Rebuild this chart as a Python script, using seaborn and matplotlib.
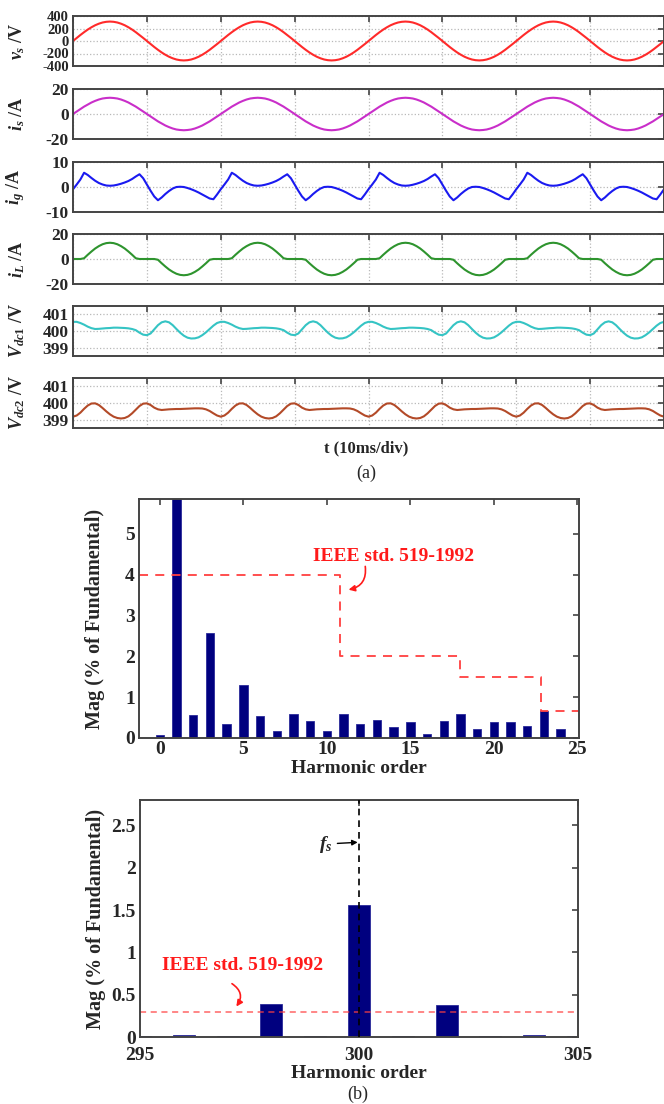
import numpy as np
import matplotlib
matplotlib.use("Agg")
import matplotlib.pyplot as plt
import seaborn as sns

# ---------------------------------------------------------------------------
# Waveforms: one 20 ms mains cycle per signal, sampled every 0.5 ms
# ---------------------------------------------------------------------------
STEP_MS = 0.5
N_CYCLES = 4

v_s_cycle = [0, 49, 96, 141, 183, 220, 252, 277, 296, 307,
             311, 307, 296, 277, 252, 220, 183, 141, 96, 49,
             0, -49, -96, -141, -183, -220, -252, -277, -296, -307,
             -311, -307, -296, -277, -252, -220, -183, -141, -96, -49]

i_s_cycle = [0, 2.0, 4.0, 5.9, 7.6, 9.2, 10.5, 11.6, 12.4, 12.8,
             13.0, 12.8, 12.4, 11.6, 10.5, 9.2, 7.6, 5.9, 4.0, 2.0,
             0, -2.0, -4.0, -5.9, -7.6, -9.2, -10.5, -11.6, -12.4, -12.8,
             -13.0, -12.8, -12.4, -11.6, -10.5, -9.2, -7.6, -5.9, -4.0, -2.0]

i_g_cycle = [-0.9, 1.0, 3.0, 5.7, 4.8, 3.6, 2.5, 1.6, 1.0, 0.6,
             0.5, 0.6, 0.9, 1.3, 1.8, 2.4, 3.2, 4.2, 5.1, 3.5,
             1.0, -1.5, -3.8, -5.3, -4.2, -2.8, -1.6, -0.6, 0.0, 0.1,
             0.0, -0.4, -0.9, -1.5, -2.2, -3.0, -3.8, -4.6, -4.9, -3.0]

i_L_cycle = [0, 0, 0, 0.6, 3.4, 6.0, 8.4, 10.3, 11.8, 12.7,
             13.0, 12.7, 11.8, 10.3, 8.4, 6.0, 3.4, 0.6, 0, 0,
             0, 0, 0, -0.6, -3.4, -6.0, -8.4, -10.3, -11.8, -12.7,
             -13.0, -12.7, -11.8, -10.3, -8.4, -6.0, -3.4, -0.6, 0, 0]

v_dc1_cycle = [400.55, 400.55, 400.48, 400.38, 400.26, 400.17, 400.12, 400.13, 400.15, 400.17,
               400.18, 400.20, 400.20, 400.19, 400.18, 400.16, 400.12, 400.05, 399.90, 399.78,
               399.75, 399.85, 400.10, 400.35, 400.52, 400.58, 400.52, 400.35, 400.12, 399.90,
               399.72, 399.60, 399.55, 399.56, 399.62, 399.75, 399.92, 400.12, 400.32, 400.48]

v_dc2_cycle = [399.18, 399.25, 399.42, 399.65, 399.85, 399.97, 399.98, 399.88, 399.70, 399.50,
               399.32, 399.18, 399.10, 399.07, 399.10, 399.20, 399.38, 399.60, 399.82, 399.96,
               399.98, 399.88, 399.72, 399.62, 399.58, 399.60, 399.62, 399.63, 399.64, 399.64,
               399.65, 399.66, 399.67, 399.68, 399.68, 399.67, 399.62, 399.52, 399.38, 399.25]

# ---------------------------------------------------------------------------
# Harmonic spectra of the source current (% of fundamental)
# ---------------------------------------------------------------------------
low_orders = list(range(0, 25))
low_mags = [0.07, 100.0, 0.57, 2.58, 0.34, 1.30, 0.53, 0.18, 0.59, 0.42,
            0.18, 0.59, 0.34, 0.44, 0.27, 0.39, 0.11, 0.42, 0.59, 0.22,
            0.39, 0.39, 0.30, 0.65, 0.22]
limit_edges = [-1.25, 10.8, 18.0, 22.8, 25.1]
limit_levels = [4.0, 2.0, 1.5, 0.65, 0.65]

high_orders = list(range(295, 306))
high_mags = [0.01, 0.025, 0.012, 0.39, 0.012, 1.56, 0.012, 0.38, 0.012, 0.025, 0.012]
high_limit = 0.3
switching_order = 300

# ---------------------------------------------------------------------------
sns.set_theme(style="white")
plt.rcParams.update({
    "font.family": ["Liberation Serif", "DejaVu Serif"],
    "font.weight": "bold",
    "mathtext.fontset": "custom",
    "mathtext.it": "Liberation Serif:italic:bold",
    "mathtext.rm": "Liberation Serif:bold",
    "mathtext.bf": "Liberation Serif:bold",
    "axes.unicode_minus": False,
    "xtick.direction": "in",
    "ytick.direction": "in",
    "axes.edgecolor": "#444444",
    "axes.linewidth": 1.4,
})

W, H = 664, 1104
fig = plt.figure(figsize=(W / 100, H / 100), dpi=100)


def add_axes_px(left, top, right, bottom):
    return fig.add_axes([left / W, 1 - bottom / H, (right - left) / W, (bottom - top) / H])


def tiled(cycle):
    values = np.tile(np.asarray(cycle, dtype=float), N_CYCLES)
    return np.append(values, cycle[0])


t_ms = np.arange(len(v_s_cycle) * N_CYCLES + 1) * STEP_MS

panels = [
    (v_s_cycle, r"$v_s$ /V", (-400, 400), [-400, -200, 0, 200, 400], "#ff2a2a", 10.5),
    (i_s_cycle, r"$i_s$ /A", (-20, 20), [-20, 0, 20], "#c92ec9", 12.5),
    (i_g_cycle, r"$i_g$ /A", (-10, 10), [-10, 0, 10], "#1a1af0", 12.5),
    (i_L_cycle, r"$i_L$ /A", (-20, 20), [-20, 0, 20], "#2e942e", 12.5),
    (v_dc1_cycle, r"$V_{dc1}$ /V", (398.5, 401.5), [399, 400, 401], "#35c4c4", 12.5),
    (v_dc2_cycle, r"$V_{dc2}$ /V", (398.5, 401.5), [399, 400, 401], "#b34a28", 12.5),
]
panel_tops = [16, 89, 162, 234, 306, 378]
PANEL_H = 50

for (cycle, label, ylim, yticks, color, tick_size), top in zip(panels, panel_tops):
    ax = add_axes_px(73, top, 664, top + PANEL_H)
    sns.lineplot(x=t_ms, y=tiled(cycle), ax=ax, color=color, linewidth=1.5)
    ax.set_xlim(0, 80)
    ax.set_ylim(*ylim)
    ax.set_xticks(np.arange(0, 81, 10))
    ax.set_xticklabels([])
    ax.set_yticks(yticks)
    ax.set_yticklabels([str(v) for v in yticks])
    ax.grid(True, color="#b8b8b8", linestyle=":", linewidth=0.9)
    ax.tick_params(axis="both", which="both", top=True, right=True, length=4,
                   width=1.2, color="#444444", labelsize=tick_size, pad=3)
    for lab in ax.get_yticklabels():
        lab.set_fontweight("bold")
    ax.set_xlabel("")
    ax.set_ylabel(label, fontsize=13, fontweight="bold")
    ax.yaxis.set_label_coords(-0.078, 0.5)

fig.text(366 / W, 1 - 448 / H, "t (10ms/div)", ha="center", va="center",
         fontsize=12, fontweight="bold")
fig.text(366 / W, 1 - 473 / H, "(a)", ha="center", va="center",
         fontsize=13, fontweight="normal")

LIMIT_RED = "#ff4040"
BAR_BLUE = "#00007f"

# ---- harmonic orders 0..25 ----
ax1 = add_axes_px(139, 499, 579, 738)
sns.barplot(x=low_orders, y=low_mags, native_scale=True, width=0.5, color=BAR_BLUE,
            saturation=1, edgecolor="#2a2a9a", linewidth=0.6, errorbar=None, ax=ax1)
sns.lineplot(x=limit_edges, y=limit_levels, ax=ax1, color=LIMIT_RED, linewidth=1.3,
             drawstyle="steps-post", dashes=False, linestyle=(0, (5, 4)))
ax1.set_xlim(-1.25, 25.1)
ax1.set_ylim(0, 5.85)
ax1.set_xticks([0, 5, 10, 15, 20, 25])
ax1.set_xticklabels(["0", "5", "10", "15", "20", "25"])
ax1.set_yticks([0, 1, 2, 3, 4, 5])
ax1.set_yticklabels(["0", "1", "2", "3", "4", "5"])
ax1.tick_params(axis="both", top=True, right=True, length=4, width=1.2,
                color="#444444", labelsize=14, pad=3)
ax1.tick_params(axis="x", pad=2)
ax1.set_xlabel("Harmonic order", fontsize=14, fontweight="bold")
ax1.set_ylabel("Mag (% of Fundamental)", fontsize=14.5, fontweight="bold")
ax1.xaxis.set_label_coords(0.5, -0.092)
ax1.yaxis.set_label_coords(-0.078, 0.5)
ax1.text(14.0, 4.44, "IEEE std. 519-1992", color="#ff1a1a", fontsize=14,
         fontweight="bold", ha="center", va="center")
ax1.annotate("", xy=(11.3, 3.63), xytext=(12.3, 4.2),
             arrowprops=dict(arrowstyle="-|>", color="#ff1a1a", lw=1.2,
                             connectionstyle="arc3,rad=-0.45", mutation_scale=9,
                             shrinkA=0, shrinkB=0))

# ---- orders around the switching frequency ----
ax2 = add_axes_px(140, 800, 578, 1037)
sns.barplot(x=high_orders, y=high_mags, native_scale=True, width=0.5, color=BAR_BLUE,
            saturation=1, edgecolor="#2a2a9a", linewidth=0.6, errorbar=None, ax=ax2)
ax2.axhline(high_limit, color=LIMIT_RED, linewidth=1.1, linestyle=(0, (4, 3)), alpha=0.8)
ax2.axvline(switching_order, color="black", linewidth=1.2, linestyle=(0, (4, 3)), zorder=5)
ax2.set_xlim(295, 305)
ax2.set_ylim(0, 2.8)
ax2.set_xticks([295, 300, 305])
ax2.set_xticklabels(["295", "300", "305"])
ax2.set_yticks([0, 0.5, 1, 1.5, 2, 2.5])
ax2.set_yticklabels(["0", "0.5", "1", "1.5", "2", "2.5"])
ax2.tick_params(axis="both", top=True, right=True, length=4, width=1.2,
                color="#444444", labelsize=14, pad=3)
ax2.tick_params(axis="x", pad=7)
ax2.set_xlabel("Harmonic order", fontsize=14, fontweight="bold")
ax2.set_ylabel("Mag (% of Fundamental)", fontsize=14.5, fontweight="bold")
ax2.xaxis.set_label_coords(0.5, -0.118)
ax2.yaxis.set_label_coords(-0.078, 0.5)
ax2.text(297.35, 0.85, "IEEE std. 519-1992", color="#ff1a1a", fontsize=14,
         fontweight="bold", ha="center", va="center")
ax2.annotate("", xy=(297.2, 0.36), xytext=(297.1, 0.63),
             arrowprops=dict(arrowstyle="-|>", color="#ff1a1a", lw=1.2,
                             connectionstyle="arc3,rad=-0.5", mutation_scale=9,
                             shrinkA=0, shrinkB=0))
ax2.annotate(r"$f_s$", xy=(299.97, 2.3), xytext=(299.4, 2.28),
             ha="right", va="center", fontsize=14,
             arrowprops=dict(arrowstyle="-|>", color="black", lw=1.0,
                             mutation_scale=8, shrinkA=1, shrinkB=0))

for ax in (ax1, ax2):
    for lab in ax.get_xticklabels() + ax.get_yticklabels():
        lab.set_fontweight("bold")

fig.text(358 / W, 1 - 1094 / H, "(b)", ha="center", va="center",
         fontsize=13, fontweight="normal")

fig.savefig("out.png", dpi=100, facecolor="white")
